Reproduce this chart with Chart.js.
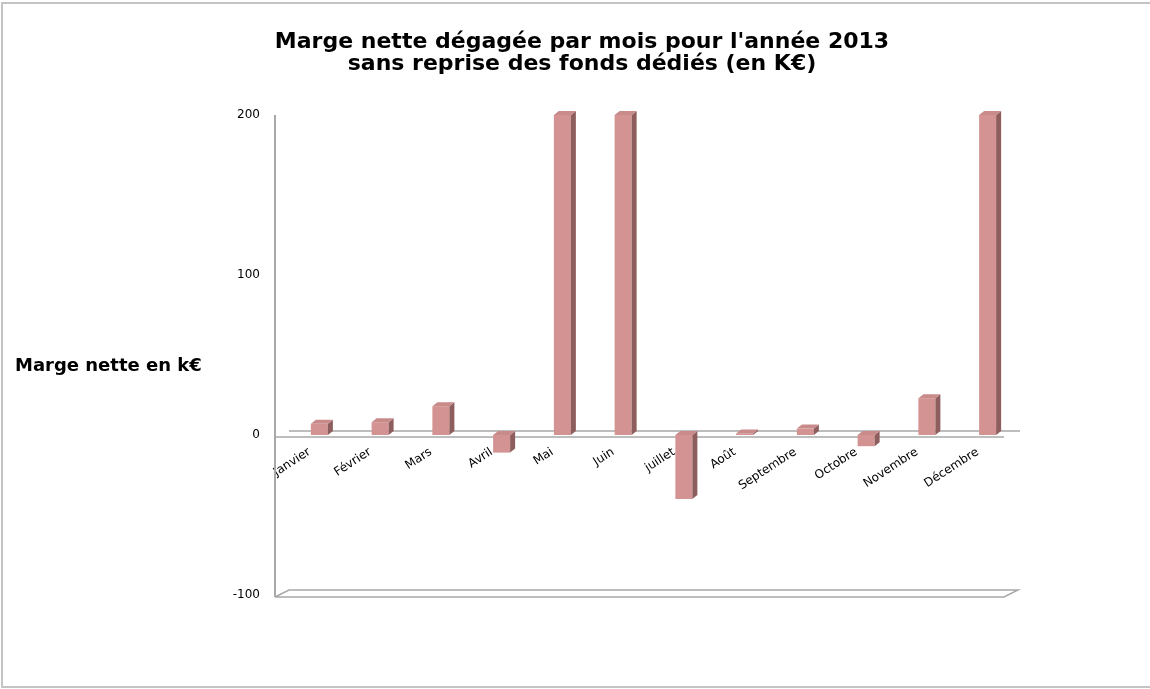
<!DOCTYPE html>
<html>
<head>
<meta charset="utf-8">
<title>Marge nette 2013</title>
<script src="https://cdn.jsdelivr.net/npm/chart.js@4/dist/chart.umd.min.js"></script>
<style>
  html, body { margin: 0; padding: 0; background: #fff; }
  #wrap { width: 1150px; height: 689px; }
</style>
</head>
<body>
<div id="wrap"><canvas id="myChart" width="1150" height="689"></canvas></div>
<script>
// DATA

const months = ['Janvier', 'Février', 'Mars', 'Avril', 'Mai', 'Juin', 'juillet', 'Août', 'Septembre', 'Octobre', 'Novembre', 'Décembre'];
const margeNette = [7, 8, 18, -11, 200, 200, -40, 1, 4, -7, 23, 200];
const yTicks = [-100, 0, 100, 200];
const chartTitle = ["Marge nette dégagée par mois pour l'année 2013", 'sans reprise des fonds dédiés (en K€)'];
const yTitle = 'Marge nette en k€';

// 3D LOOK (floor, zero plane, bar sides)

const lineGray = '#a8a8a8';
const frontColor = '#d39393';
const sideColor = '#8e5e5e';
const topColor = '#c98a8a';
const floorDepth = 14;
const barDx = 5;
const barDy = 4;

const frame3d = {
  id: 'frame3d',
  beforeDraw(chart) {
    const c = chart.ctx;
    c.save();
    c.strokeStyle = '#c4c4c4';
    c.lineWidth = 2;
    c.beginPath();
    c.moveTo(chart.width, 3);
    c.lineTo(2, 3);
    c.lineTo(2, chart.height - 2);
    c.lineTo(chart.width, chart.height - 2);
    c.stroke();
    c.restore();
  },
  beforeDatasetsDraw(chart) {
    const c = chart.ctx;
    const a = chart.chartArea;
    const y = chart.scales.y;
    const y0 = y.getPixelForValue(0);
    const yMin = y.getPixelForValue(yTicks[0]);
    const xAxis = a.left - floorDepth;

    c.save();
    c.strokeStyle = lineGray;
    c.lineWidth = 1.5;
    c.beginPath();
    // zero plane
    c.moveTo(a.left, y0 - 4);
    c.lineTo(a.right + 2, y0 - 4);
    c.moveTo(xAxis, y0 + 2);
    c.lineTo(a.right - floorDepth, y0 + 2);
    // floor
    c.moveTo(xAxis, yMin + 2);
    c.lineTo(a.left, yMin - 5);
    c.lineTo(a.right, yMin - 5);
    c.lineTo(a.right - floorDepth, yMin + 2);
    c.lineTo(xAxis, yMin + 2);
    c.stroke();
    // value axis
    c.lineWidth = 2;
    c.beginPath();
    c.moveTo(xAxis, a.top);
    c.lineTo(xAxis, yMin + 2);
    c.stroke();
    c.restore();
  },
  afterDatasetsDraw(chart) {
    const c = chart.ctx;
    c.save();
    chart.getDatasetMeta(0).data.forEach(function (bar) {
      const p = bar.getProps(['x', 'y', 'base', 'width'], true);
      const l = p.x - p.width / 2;
      const r = p.x + p.width / 2;
      const top = Math.min(p.y, p.base);
      const bot = Math.max(p.y, p.base);

      c.fillStyle = sideColor;
      c.beginPath();
      c.moveTo(r, top);
      c.lineTo(r + barDx, top - barDy);
      c.lineTo(r + barDx, bot - barDy);
      c.lineTo(r, bot);
      c.closePath();
      c.fill();

      c.fillStyle = topColor;
      c.beginPath();
      c.moveTo(l, top);
      c.lineTo(l + barDx, top - barDy);
      c.lineTo(r + barDx, top - barDy);
      c.lineTo(r, top);
      c.closePath();
      c.fill();
    });
    c.restore();
  },
  afterDraw(chart) {
    // horizontal axis title, left of the plot
    const c = chart.ctx;
    c.save();
    c.fillStyle = '#000';
    c.font = 'bold 18px "DejaVu Sans"';
    c.textBaseline = 'middle';
    c.fillText(yTitle, 15, 366);
    c.restore();
  }
};

// CHART

const ctx = document.getElementById('myChart').getContext('2d');

const chart = new Chart(ctx, {
  type: 'bar',
  data: {
    labels: months,
    datasets: [
      {
        label: 'Marge nette',
        data: margeNette,
        backgroundColor: frontColor,
        borderWidth: 0,
        barPercentage: 0.28,
        categoryPercentage: 1,
      },
    ],
  },
  options: {
    responsive: false,
    animation: false,
    layout: {
      padding: { left: 146, right: 132, top: 0, bottom: 94 },
    },
    plugins: {
      legend: { display: false },
      tooltip: { enabled: false },
      title: {
        display: true,
        text: chartTitle,
        color: '#000',
        font: { family: 'DejaVu Sans', size: 22, weight: 'bold', lineHeight: 1 },
        padding: { top: 31, bottom: 40 },
      },
    },
    scales: {
      x: {
        position: { y: 0 },
        grid: { display: false, drawTicks: false },
        border: { display: false },
        ticks: {
          autoSkip: false,
          minRotation: 33,
          maxRotation: 33,
          labelOffset: -10,
          padding: 10,
          color: '#000',
          font: { family: 'DejaVu Sans', size: 12 },
        },
      },
      y: {
        min: yTicks[0],
        max: yTicks[yTicks.length - 1],
        afterBuildTicks: function (scale) {
          scale.ticks = yTicks.map(function (v) { return { value: v }; });
        },
        afterFit: function (scale) {
          scale.width = 143;
        },
        grid: { display: false, drawTicks: false },
        border: { display: false },
        ticks: {
          padding: 29,
          color: '#000',
          font: { family: 'DejaVu Sans', size: 12 },
        },
      },
    },
  },
  plugins: [frame3d],
});
</script>
</body>
</html>
